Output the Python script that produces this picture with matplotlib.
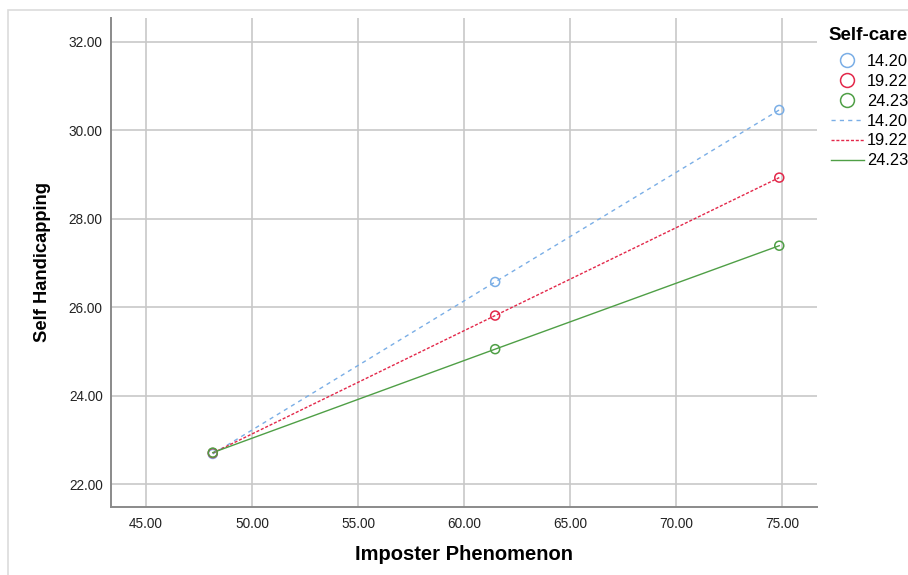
import matplotlib.pyplot as plt
from matplotlib.lines import Line2D
from matplotlib.patches import Rectangle

plt.rcParams["font.family"] = ["Liberation Sans", "DejaVu Sans"]

# data
imposter = [48.15, 61.47, 74.87]
levels = ["14.20", "19.22", "24.23"]
handicap_low = [22.68, 26.57, 30.46]
handicap_mid = [22.70, 25.81, 28.93]
handicap_high = [22.71, 25.05, 27.39]

series = [handicap_low, handicap_mid, handicap_high]
colors = ["#7aaee6", "#e3284a", "#4f9f46"]
styles = [(0, (3, 3)), (0, (2.2, 1.3)), "-"]

fig = plt.figure(figsize=(9.08, 5.75), dpi=100)
ax = fig.add_axes([111 / 908, 1 - 507 / 575, (817 - 111) / 908, (507 - 18) / 575])

# light outer frame like the SPSS chart editor
fig.patches.append(Rectangle((8 / 908, -0.01), 1.0, 1 - 10 / 575 + 0.01,
                             transform=fig.transFigure, fill=False,
                             edgecolor="#dcdcdc", lw=1.2))

for vals, c, ls in zip(series, colors, styles):
    ax.plot(imposter, vals, color=c, linestyle=ls, lw=1.0, zorder=3)
    ax.scatter(imposter, vals, s=42, facecolors="none", edgecolors=c,
               linewidths=1.1, zorder=4)

ax.set_xlim(43.35, 76.65)
ax.set_ylim(21.48, 32.54)
ax.set_xticks([45, 50, 55, 60, 65, 70, 75])
ax.set_yticks([22, 24, 26, 28, 30, 32])
ax.set_xticklabels([f"{v:.2f}" for v in ax.get_xticks()])
ax.set_yticklabels([f"{v:.2f}" for v in ax.get_yticks()])
ax.tick_params(length=0, labelsize=9.8, colors="#222222", pad=7)
ax.tick_params(axis="y", pad=6)
ax.grid(True, color="#c8c8c8", lw=1.2)
ax.set_axisbelow(True)
for side in ["top", "right"]:
    ax.spines[side].set_visible(False)
for side in ["left", "bottom"]:
    ax.spines[side].set_color("#8a8a8a")
    ax.spines[side].set_linewidth(1.4)

ax.set_xlabel("Imposter Phenomenon", fontsize=14.5, fontweight="bold", labelpad=10)
ax.set_ylabel("Self Handicapping", fontsize=13.2, fontweight="bold", labelpad=13)

# legend title drawn separately so its gap to the entries matches
fig.text(828 / 908, 1 - 35 / 575, "Self-care", fontsize=13.5, fontweight="bold",
         ha="left", va="center")
handles = [Line2D([], [], ls="none", marker="o", ms=10, mfc="none", mec=c, mew=1.1)
           for c in colors]
handles += [Line2D([], [], color=c, ls=ls, lw=1.0) for c, ls in zip(colors, styles)]
leg = fig.legend(handles, levels + levels, loc="upper left",
                 bbox_to_anchor=(816 / 908, 1 - 39 / 575), frameon=False,
                 fontsize=11.8, handlelength=2.0,
                 handletextpad=0.2, labelspacing=0.3)

fig.savefig("out.png", dpi=100)
